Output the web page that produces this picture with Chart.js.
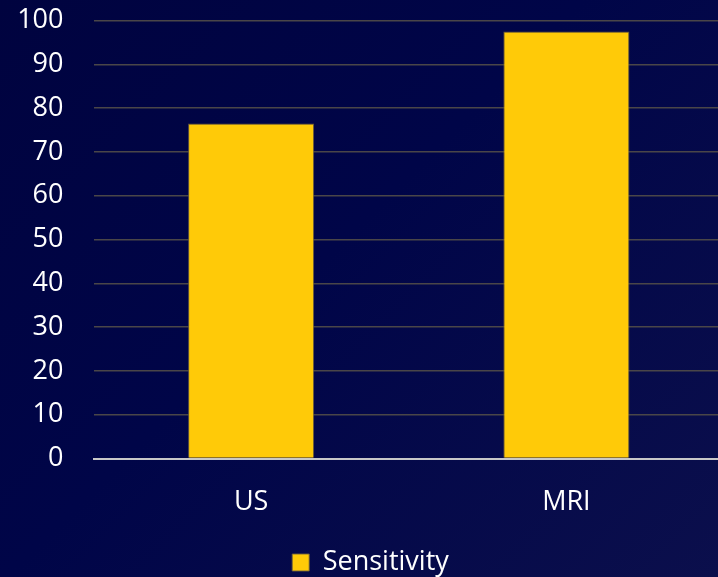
<!DOCTYPE html>
<html>
<head>
<meta charset="utf-8">
<script src="https://cdn.jsdelivr.net/npm/chart.js@4/dist/chart.umd.min.js"></script>
<style>
  html, body { margin: 0; padding: 0; width: 718px; height: 577px; overflow: hidden; }
  body { background: linear-gradient(135deg, #00033f 0%, #000548 45%, #0b0f4c 100%); }
  #wrap { position: absolute; left: 0; top: 0; width: 724px; height: 586px; }
</style>
</head>
<body>
<div id="wrap"><canvas id="chart"></canvas></div>
<script>
// Categories and values
const categories = ['US', 'MRI'];
const sensitivity = [76.5, 97.5];
const seriesName = 'Sensitivity';
const yTicks = [0, 10, 20, 30, 40, 50, 60, 70, 80, 90, 100];

const FONT = '"Open Sans", "Noto Sans", sans-serif';

new Chart(document.getElementById('chart'), {
  type: 'bar',
  data: {
    labels: categories,
    datasets: [{
      label: seriesName,
      data: sensitivity,
      backgroundColor: '#FFCA08',
      borderColor: 'rgba(110, 95, 60, 0.9)',
      borderWidth: 1,
      barPercentage: 0.4,
      categoryPercentage: 1.0
    }]
  },
  options: {
    responsive: true,
    maintainAspectRatio: false,
    animation: false,
    layout: { padding: { left: 17, right: 0, top: 0, bottom: 0 } },
    plugins: {
      tooltip: { enabled: false },
      legend: {
        position: 'bottom',
        labels: {
          color: '#ffffff',
          font: { family: FONT, size: 27 },
          boxWidth: 17,
          boxHeight: 17,
          padding: 2
        }
      }
    },
    scales: {
      x: {
        grid: { display: false, drawTicks: false },
        border: { display: true, color: '#c8c8c8', width: 2 },
        ticks: { color: '#ffffff', font: { family: FONT, size: 27 }, padding: 28 }
      },
      y: {
        min: 0,
        max: 100,
        afterBuildTicks: (scale) => { scale.ticks = yTicks.map(v => ({ value: v })); },
        afterFit: (scale) => {
          scale.width = 76.5;
          scale.paddingTop = 20.5;
          scale.paddingBottom = 0;
        },
        grid: { color: '#4a4648', lineWidth: 1.5, drawTicks: false },
        border: { display: false },
        ticks: { color: '#ffffff', font: { family: FONT, size: 27 }, padding: 30 }
      }
    }
  }
});
</script>
</body>
</html>
